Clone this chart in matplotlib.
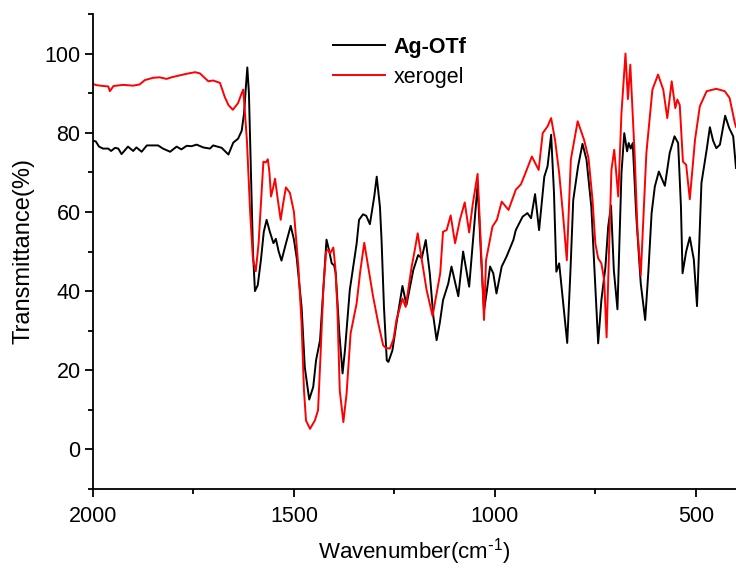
import matplotlib
matplotlib.use("Agg")
import matplotlib.pyplot as plt
from matplotlib.ticker import MultipleLocator

plt.rcParams['font.family'] = ['Liberation Sans', 'DejaVu Sans']
plt.rcParams['mathtext.default'] = 'regular'

ag_wn = [2000, 1993, 1985, 1975, 1962, 1955, 1945, 1937, 1929, 1913, 1900, 1892, 1879, 1866, 1850,
         1838, 1826, 1808, 1792, 1780, 1767, 1755, 1742, 1726, 1709, 1701, 1690, 1680, 1663, 1651,
         1639, 1630, 1624, 1620, 1616, 1612, 1607, 1602, 1597, 1590, 1582, 1575, 1568, 1560, 1551,
         1545, 1538, 1531, 1520, 1508, 1500, 1493, 1481, 1473, 1462, 1452, 1445, 1435, 1427, 1419,
         1412, 1406, 1400, 1396, 1387, 1379, 1373, 1361, 1344, 1338, 1328, 1320, 1311, 1300, 1294,
         1286, 1282, 1276, 1269, 1265, 1255, 1245, 1230, 1220, 1203, 1191, 1182, 1172, 1162, 1153,
         1145, 1137, 1129, 1116, 1108, 1091, 1079, 1064, 1055, 1043, 1035, 1027, 1020, 1012, 1004,
         996, 983, 971, 954, 948, 931, 919, 910, 900, 890, 877, 869, 860, 853, 847,
         840, 830, 820, 812, 805, 793, 782, 772, 760, 752, 743, 735, 725, 718, 711,
         704, 695, 685, 678, 671, 667, 662, 657, 648, 637, 626, 618, 610, 602, 592,
         577, 565, 553, 544, 537, 533, 524, 515, 505, 497, 486, 473, 465, 457, 449,
         440, 427, 417, 407, 400]
ag_t = [78.0, 77.8, 76.5, 76.0, 76.0, 75.4, 76.2, 76.0, 74.6, 76.5, 75.4, 76.3, 75.2, 76.8, 76.8,
        76.8, 76.0, 75.2, 76.5, 75.8, 76.7, 76.6, 77.0, 76.3, 76.0, 76.8, 76.5, 76.2, 74.5, 77.5,
        78.5, 80.5, 85.0, 91.0, 96.5, 90.0, 70.0, 50.0, 40.0, 41.5, 48.0, 55.0, 58.0, 55.0, 52.1,
        53.2, 50.0, 47.7, 52.0, 56.5, 53.0, 48.3, 36.0, 20.8, 12.6, 15.8, 22.5, 27.6, 40.3, 53.0,
        50.0, 47.0, 46.5, 44.5, 29.3, 19.2, 25.1, 40.3, 52.0, 58.0, 59.4, 59.0, 56.9, 64.0, 68.9,
        61.3, 52.9, 36.0, 22.5, 22.1, 25.0, 31.8, 41.3, 36.5, 45.3, 49.1, 48.3, 52.9, 44.5, 33.5,
        27.6, 32.0, 37.7, 41.9, 46.2, 38.7, 50.0, 41.1, 52.0, 66.8, 50.0, 35.0, 40.0, 46.2, 44.5,
        39.4, 46.2, 48.7, 52.9, 55.4, 58.8, 59.7, 58.4, 64.5, 55.4, 68.9, 71.5, 79.5, 65.0, 44.9,
        47.0, 37.0, 26.9, 45.0, 63.0, 71.5, 77.2, 73.2, 61.3, 45.0, 26.8, 37.7, 46.0, 56.3, 61.6,
        45.3, 35.4, 69.8, 79.9, 75.3, 77.4, 76.0, 77.4, 58.8, 41.9, 32.7, 45.0, 59.7, 66.4, 70.2,
        66.6, 74.9, 79.1, 77.4, 61.3, 44.5, 50.0, 53.6, 48.0, 36.2, 67.3, 75.7, 81.4, 78.0, 76.1,
        77.0, 84.3, 81.2, 79.1, 71.1]

xg_wn = [2000, 1990, 1973, 1962, 1958, 1949, 1925, 1900, 1884, 1871, 1850, 1834, 1817, 1805, 1788,
         1767, 1746, 1734, 1713, 1701, 1684, 1672, 1663, 1652, 1639, 1630, 1626, 1617, 1609, 1602,
         1595, 1588, 1580, 1576, 1570, 1565, 1561, 1557, 1552, 1547, 1540, 1533, 1527, 1520, 1510,
         1500, 1489, 1481, 1475, 1470, 1460, 1448, 1440, 1434, 1427, 1420, 1415, 1410, 1402, 1397,
         1392, 1386, 1377, 1369, 1359, 1344, 1335, 1325, 1315, 1303, 1290, 1278, 1271, 1261, 1252,
         1245, 1230, 1222, 1207, 1200, 1192, 1182, 1170, 1155, 1136, 1129, 1120, 1110, 1099, 1087,
         1075, 1064, 1055, 1043, 1035, 1027, 1022, 1006, 995, 983, 966, 948, 935, 924, 908,
         891, 881, 869, 860, 850, 840, 830, 821, 811, 794, 778, 767, 757, 750, 743,
         735, 728, 722, 716, 710, 703, 693, 685, 675, 669, 663, 652, 645, 637, 623,
         608, 594, 581, 571, 560, 551, 546, 540, 532, 524, 515, 502, 490, 473, 449,
         428, 416, 403, 400]
xg_t = [92.3, 92.0, 91.8, 91.7, 90.5, 91.8, 92.1, 91.9, 92.2, 93.3, 93.9, 94.0, 93.6, 94.0, 94.4,
        94.9, 95.3, 95.0, 93.0, 93.2, 92.6, 89.0, 87.0, 85.8, 87.5, 90.0, 90.9, 78.0, 60.0, 48.0,
        45.0, 52.0, 66.0, 72.7, 72.5, 73.3, 70.0, 63.9, 66.0, 68.4, 63.0, 58.0, 62.0, 66.2, 64.8,
        60.0, 46.2, 31.8, 14.9, 7.3, 5.2, 7.3, 9.9, 23.4, 40.3, 50.0, 50.4, 49.5, 51.0, 46.0,
        36.0, 14.9, 6.9, 14.1, 29.3, 36.9, 45.0, 52.2, 46.0, 38.6, 31.8, 26.3, 25.6, 25.5, 28.0,
        32.7, 38.1, 36.0, 46.2, 50.0, 54.6, 48.0, 40.3, 33.7, 44.5, 55.0, 55.4, 59.1, 52.1, 58.0,
        62.4, 54.8, 62.0, 69.6, 52.0, 32.7, 47.8, 56.3, 58.0, 62.6, 60.5, 65.6, 67.0, 69.8, 74.0,
        70.6, 79.9, 81.6, 83.7, 78.0, 69.8, 58.8, 47.8, 73.2, 82.9, 78.2, 73.6, 63.0, 52.0, 48.3,
        47.0, 42.8, 28.3, 50.0, 70.6, 75.7, 63.9, 85.0, 100.0, 88.5, 97.2, 74.0, 55.0, 44.0, 74.9,
        90.9, 94.7, 90.9, 83.7, 93.0, 86.2, 88.4, 87.0, 72.7, 71.9, 63.2, 78.2, 86.7, 90.5, 91.1,
        90.5, 88.8, 82.5, 81.5]

x_ticks = [2000, 1500, 1000, 500]
y_ticks = [0, 20, 40, 60, 80, 100]

fig = plt.figure(figsize=(7.36, 5.68), dpi=100)
ax = fig.add_axes([93/736, 79/568, 643/736, 475/568])

ax.plot(ag_wn, ag_t, color='black', lw=1.4, label='Ag-OTf')
ax.plot(xg_wn, xg_t, color='red', lw=1.4, label='xerogel')

ax.set_xlim(2000, 400)
ax.set_ylim(-10, 110)
ax.set_xticks(x_ticks)
ax.set_yticks(y_ticks)
ax.xaxis.set_minor_locator(MultipleLocator(250))
ax.yaxis.set_minor_locator(MultipleLocator(10))
for s in ['top', 'right']:
    ax.spines[s].set_visible(False)
for s in ['left', 'bottom']:
    ax.spines[s].set_linewidth(1.3)
ax.tick_params(which='major', direction='out', length=6, width=1.3, labelsize=15.5)
ax.tick_params(axis='x', which='major', pad=6)
ax.tick_params(axis='y', which='major', pad=3)
ax.tick_params(which='minor', direction='out', length=3.5, width=1.3)

ax.set_xlabel(r'Wavenumber(cm$^{\text{-}1}$)', fontsize=16, labelpad=7)
ax.set_ylabel('Transmittance(%)', fontsize=17, labelpad=7)

leg = ax.legend(loc='upper left', bbox_to_anchor=(333/736, 1 - 37/568), bbox_transform=fig.transFigure,
                frameon=False, fontsize=15.5, handlelength=2.4, handletextpad=0.4,
                labelspacing=0.4, borderpad=0, borderaxespad=0)
leg.get_texts()[0].set_fontweight('bold')

fig.savefig('out.png', dpi=100, facecolor='white')
